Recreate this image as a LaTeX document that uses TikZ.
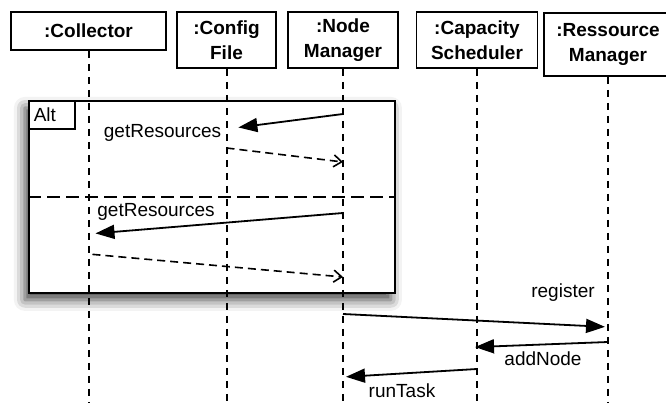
\documentclass[tikz,border=0pt]{standalone}
\usepackage{fontspec}
\setmainfont{Liberation Sans}
\usepackage{tikz}
\usetikzlibrary{arrows.meta,shadows.blur}

\tikzset{
  object/.style={draw, line width=1.8pt, fill=white, font=\fontsize{19}{25}\selectfont\bfseries, align=center, inner sep=0pt},
  lifeline/.style={line width=2pt, dash pattern=on 7pt off 6pt},
  call/.style={line width=1.8pt, -{Triangle[length=19pt,width=14pt]}},
  reply/.style={line width=1.6pt, dash pattern=on 8pt off 5pt, -{Straight Barb[length=8pt,width=12pt]}},
  altbox/.style={draw, line width=1.8pt, fill=white, blur shadow={shadow xshift=-4pt, shadow yshift=-7pt, shadow blur radius=11pt, shadow opacity=75}},
}

\begin{document}
\begin{tikzpicture}[x=1pt, y=-1pt, font=\fontsize{19}{25}\selectfont]
    \useasboundingbox (0, 0) rectangle (666, 403);

    \node [altbox, minimum width=366pt, minimum height=192pt, anchor=north west] (alt) at (28, 100) {};
    \node [draw, line width=1.6pt, anchor=north west, text width=36pt, minimum height=28pt, inner xsep=5pt, inner ysep=0pt] (tab) at (alt.north west) {Alt};

    \node [object, minimum width=155pt, minimum height=38pt] (coll) at (88.5, 31) {:Collector};
    \node [object, minimum width=99pt, minimum height=56pt] (cfg) at (226.5, 40) {:Config\\File};
    \node [object, minimum width=110pt, minimum height=56pt] (nm) at (343, 40) {:Node\\Manager};
    \node [object, minimum width=121pt, minimum height=56pt] (cap) at (477, 40) {:Capacity\\Scheduler};
    \node [object, minimum width=128pt, minimum height=63pt] (rm) at (608, 44.5) {:Ressource\\Manager};

    \coordinate (bottom) at (0, 405);
    \draw [lifeline] (coll.south) -- (coll.south |- bottom);
    \draw [lifeline] (cfg.south) -- (cfg.south |- bottom);
    \draw [lifeline] (nm.south) -- (nm.south |- bottom);
    \draw [lifeline] (cap.south) -- (cap.south |- bottom);
    \draw [lifeline] (rm.south) -- (rm.south |- bottom);

    \coordinate (sep) at (0, 197);
    \draw [line width=1.6pt, dash pattern=on 13pt off 6pt] (alt.west |- sep) -- (alt.east |- sep);

    \coordinate (y1) at (0, 114);
    \coordinate (y2) at (0, 129);
    \coordinate (y3) at (0, 148);
    \coordinate (y4) at (0, 162);
    \coordinate (y5) at (0, 213);
    \coordinate (y6) at (0, 234);
    \coordinate (y7) at (0, 254);
    \coordinate (y8) at (0, 277);
    \coordinate (y9) at (0, 314);
    \coordinate (y10) at (0, 327);
    \coordinate (y11) at (0, 342);
    \coordinate (y12) at (0, 347);
    \coordinate (y13) at (0, 369);
    \coordinate (y14) at (0, 377);

    \draw [call, shorten >=12pt] (nm.south |- y1) -- (cfg.south |- y2);
    \draw [reply] (cfg.south |- y3) -- (nm.south |- y4);
    \draw [call, shorten >=7pt] (nm.south |- y5) -- (coll.south |- y6);
    \draw [reply, shorten <=4pt] (coll.south |- y7) -- (nm.south |- y8);
    \draw [call, shorten >=3pt] (nm.south |- y9) -- (rm.south |- y10);
    \draw [call, shorten >=-2pt] (rm.south |- y11) -- (cap.south |- y12);
    \draw [call, shorten >=3pt] (cap.south |- y13) -- (nm.south |- y14);

    \node (get1) at (162.5, 133) {getResources};
    \node (get2) at (156, 212) {getResources};
    \node (reg) at (563, 293) {register};
    \node (add) at (543, 359) {addNode};
    \node (run) at (402, 391) {runTask};
\end{tikzpicture}
\end{document}
